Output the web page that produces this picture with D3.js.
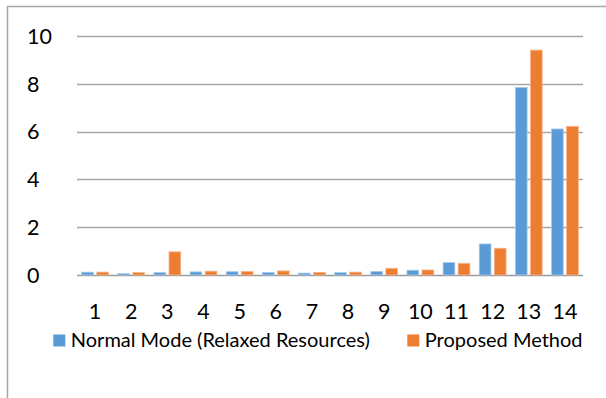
<!DOCTYPE html>
<html>
<head>
<meta charset="utf-8">
<script src="https://cdn.jsdelivr.net/npm/d3@7"></script>
<style>
  html, body { margin: 0; padding: 0; background: #fff; }
  svg { display: block; }
  text { font-family: Lato, "Open Sans", sans-serif; fill: #000; }
</style>
</head>
<body>
<svg id="chart" width="606" height="398"></svg>
<script>
// Run numbers 1..14
const categories = ["1","2","3","4","5","6","7","8","9","10","11","12","13","14"];
const normalMode = [0.12, 0.06, 0.10, 0.13, 0.14, 0.11, 0.08, 0.10, 0.15, 0.20, 0.52, 1.30, 7.85, 6.11];
const proposed   = [0.12, 0.10, 0.97, 0.16, 0.15, 0.17, 0.11, 0.12, 0.28, 0.21, 0.49, 1.12, 9.41, 6.22];
const seriesNames = ["Normal Mode (Relaxed Resources)", "Proposed Method"];
const seriesColors = ["#5B9BD5", "#ED7D31"];
const yTicks = [0, 2, 4, 6, 8, 10];

const svg = d3.select("#chart");

// Outer chart frame
svg.append("path")
  .attr("d", "M7.5,420 V6.5 H620")
  .attr("fill", "none")
  .attr("stroke", "#A6A6A6")
  .attr("stroke-width", 1.5);

const y = d3.scaleLinear().domain([0, 10]).range([275, 36]);
const x = d3.scaleBand().domain(categories).range([77, 583]).paddingInner(0).paddingOuter(0);
const xs = d3.scaleBand().domain([0, 1]).range([0, x.bandwidth()]).paddingInner(0.22).paddingOuter(0.31);

// Gridlines
svg.append("g").selectAll("line").data(yTicks).join("line")
  .attr("x1", 77).attr("x2", 583)
  .attr("y1", d => Math.round(y(d)) + 0.5).attr("y2", d => Math.round(y(d)) + 0.5)
  .attr("stroke", d => d === 0 ? "#9A9A9A" : "#A6A6A6")
  .attr("stroke-width", 1.4);

// Y tick labels
svg.append("g").selectAll("text").data(yTicks).join("text")
  .attr("x", 27)
  .attr("y", d => y(d))
  .attr("dy", "0.36em")
  .attr("font-size", 21.5)
  .text(d => d);

// Bars
const data = categories.map((c, i) => ({ c, vals: [normalMode[i], proposed[i]] }));
const groups = svg.append("g").selectAll("g").data(data).join("g")
  .attr("transform", d => `translate(${x(d.c)},0)`);
groups.selectAll("rect").data(d => d.vals.map((v, k) => ({ v, k }))).join("rect")
  .attr("x", d => xs(d.k))
  .attr("width", xs.bandwidth())
  .attr("y", d => y(d.v))
  .attr("height", d => y(0) - y(d.v))
  .attr("fill", d => seriesColors[d.k])
  .attr("stroke", d => d.k === 0 ? "#A9CBEA" : "#F5B58C")
  .attr("stroke-width", 0.8);

// X tick labels
svg.append("g").selectAll("text").data(categories).join("text")
  .attr("x", d => x(d) + x.bandwidth() / 2)
  .attr("y", 311)
  .attr("dy", "0.36em")
  .attr("text-anchor", "middle")
  .attr("font-size", 21.5)
  .text(d => d);

// Legend
const legendX = [53.3, 407.3];
const leg = svg.append("g").selectAll("g").data(seriesNames).join("g")
  .attr("transform", (d, i) => `translate(${legendX[i]},334.5)`);
leg.append("rect").attr("width", 12).attr("height", 12)
  .attr("fill", (d, i) => seriesColors[i]);
leg.append("text")
  .attr("x", 17.5).attr("y", 5.5)
  .attr("dy", "0.36em")
  .attr("font-size", 20)
  .text(d => d);
</script>
</body>
</html>
